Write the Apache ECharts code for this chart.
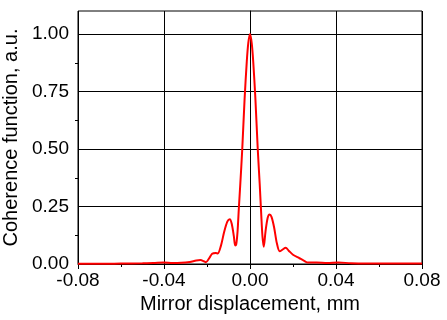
<!DOCTYPE html>
<html><head><meta charset="utf-8">
<script src="https://cdn.jsdelivr.net/npm/echarts@6/dist/echarts.min.js"></script>
<style>html,body{margin:0;padding:0;background:#fff}#c{width:447px;height:320px}</style>
</head><body><div id="c"></div>
<script>
const displacement = [-0.08,-0.07,-0.06,-0.05,-0.045,-0.04,-0.036,-0.032,-0.028,-0.025,-0.023,-0.0215,-0.0205,-0.019,-0.0176,-0.016,-0.015,-0.0135,-0.012,-0.0105,-0.0094,-0.0085,-0.0075,-0.0069,-0.0064,-0.0058,-0.0052,-0.0045,-0.0036,-0.0025,-0.0015,-0.0008,0,0.0008,0.0015,0.0025,0.0036,0.0045,0.0052,0.0058,0.0064,0.0072,0.0082,0.0091,0.0100,0.0112,0.0125,0.0138,0.0152,0.0166,0.018,0.020,0.023,0.025,0.027,0.031,0.036,0.041,0.047,0.055,0.065,0.08];
const coherence = [0.001,0.001,0.002,0.003,0.004,0.007,0.004,0.005,0.009,0.015,0.017,0.012,0.008,0.025,0.045,0.048,0.046,0.08,0.14,0.185,0.195,0.175,0.12,0.08,0.085,0.14,0.24,0.35,0.5,0.72,0.88,0.96,1.0,0.96,0.88,0.72,0.5,0.35,0.22,0.12,0.075,0.14,0.2,0.215,0.205,0.16,0.09,0.055,0.063,0.071,0.058,0.04,0.025,0.015,0.006,0.007,0.004,0.007,0.003,0.002,0.002,0.002];
const xTicks = [-0.08,-0.04,0,0.04,0.08];
const yTicks = [0,0.25,0.5,0.75,1.0];
const yMinorTicks = [0.125,0.375,0.625,0.875];

const font = 'Liberation Sans, Arial, sans-serif';
const chart = echarts.init(document.getElementById('c'), null, {renderer:'canvas'});
chart.setOption({
  animation:false,
  grid:{left:78,right:25,top:11,bottom:56,show:true,borderColor:'#000',borderWidth:1,backgroundColor:'transparent',containLabel:false,outerBoundsMode:'none'},
  xAxis:{
    type:'value',min:-0.08,max:0.08,interval:0.04,
    name:'Mirror displacement, mm',nameLocation:'middle',nameGap:27,
    nameTextStyle:{fontFamily:font,fontSize:20,color:'#000'},
    axisLine:{lineStyle:{color:'#000',width:1}},
    axisTick:{inside:false,length:5,lineStyle:{color:'#000'}},
    minorTick:{show:true,splitNumber:2,length:3,lineStyle:{color:'#000'}},
    axisLabel:{margin:7,fontFamily:font,fontSize:19,color:'#000',formatter:v=>v.toFixed(2),customValues:xTicks},
    splitLine:{show:true,lineStyle:{color:'#000',width:1}}
  },
  yAxis:[{
    type:'value',min:0,max:1.1,interval:0.25,
    name:'Coherence function, a.u.',nameLocation:'middle',nameGap:54,nameRotate:90,
    nameTextStyle:{fontFamily:font,fontSize:20,color:'#000'},
    axisLine:{show:true,lineStyle:{color:'#000',width:1}},
    axisTick:{show:true,inside:false,length:5,lineStyle:{color:'#000'},customValues:yTicks},
    axisLabel:{margin:9,fontFamily:font,fontSize:19,color:'#000',customValues:yTicks,
      formatter:v=>(Math.abs(v*4-Math.round(v*4))<1e-6?v.toFixed(2):'')},
    splitLine:{show:true,lineStyle:{color:'#000',width:1}}
  },{
    type:'value',min:0,max:1.1,interval:0.125,position:'left',
    axisLine:{show:false},
    axisTick:{show:true,inside:false,length:3,lineStyle:{color:'#000'},customValues:yMinorTicks},
    axisLabel:{show:false},splitLine:{show:false}
  }],
  series:[{
    type:'line',yAxisIndex:0,
    data:displacement.map((x,i)=>[x,coherence[i]]),
    showSymbol:false,smooth:0.3,
    lineStyle:{color:'#ff0000',width:2},
    itemStyle:{color:'#ff0000'}
  }]
});
</script></body></html>
